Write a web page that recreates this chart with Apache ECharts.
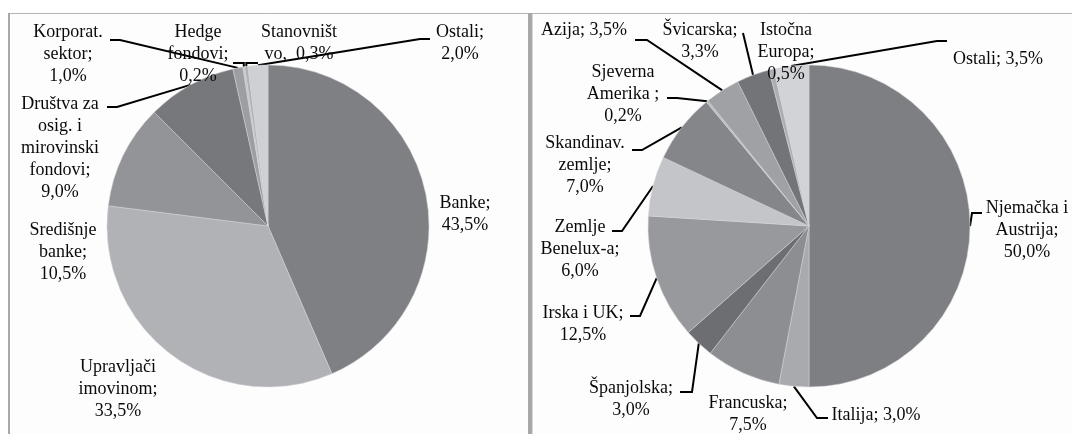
<!DOCTYPE html>
<html><head><meta charset="utf-8">
<script src="https://cdn.jsdelivr.net/npm/echarts@6/dist/echarts.min.js"></script>
<style>html,body{margin:0;padding:0;background:#fff}#c{width:1072px;height:434px}</style>
</head><body><div id="c"></div>
<script>
// ---- data ----
const leftCategories = ['Banke;\n', 'Upravljači\nimovinom;\n', 'Središnje\nbanke;\n',
  'Društva za\nosig. i\nmirovinski\nfondovi;\n', 'Korporat.\nsektor;\n', 'Hedge\nfondovi;\n',
  'Stanovništ\nvo,  ', 'Ostali;\n'];
const leftValues = [43.5, 33.5, 10.5, 9.0, 1.0, 0.2, 0.3, 2.0];

const rightCategories = ['Njemačka i\nAustrija;\n', 'Italija; ', 'Francuska;\n', 'Španjolska;\n',
  'Irska i UK;\n', 'Zemlje\nBenelux-a;\n', 'Skandinav.\nzemlje;\n', 'Sjeverna\nAmerika ;\n',
  'Azija; ', 'Švicarska;\n', 'Istočna\nEuropa;\n', 'Ostali; '];
const rightValues = [50.0, 3.0, 7.5, 3.0, 12.5, 6.0, 7.0, 0.2, 3.5, 3.3, 0.5, 3.5];

// ---- styles ----
const leftColors = ['#7f8084', '#b1b2b6', '#939498', '#77787c', '#9d9ea2', '#c4c5c8', '#aeafb3', '#cfd0d3'];
const rightColors = ['#7e7f83', '#a9aaae', '#8d8e92', '#6d6e72', '#98999d', '#c4c5c8', '#858689',
  '#b9babd', '#a0a1a5', '#737478', '#adaeb1', '#d2d3d6'];

// ---- label layout (label positions and leader end points) ----
const leftLabelLayout = [
  {x: 465, y: 192},
  {x: 118, y: 356},
  {x: 63, y: 219},
  {x: 60, y: 93, end: [107, 107], elbow: [117, 107]},
  {x: 68, y: 21, end: [110, 40], elbow: [120, 40]},
  {x: 198, y: 21, end: [233, 63], elbow: 'v'},
  {x: 299, y: 21, end: [258, 63], elbow: 'v'},
  {x: 460, y: 21, end: [430, 39], elbow: [420, 39]}
];
const rightLabelLayout = [
  {x: 1027, y: 197, end: [982, 213], elbow: [972, 213]},
  {x: 876, y: 404, end: [828, 418], elbow: [817, 418]},
  {x: 748, y: 392},
  {x: 631, y: 377, end: [680, 392], elbow: [692, 392]},
  {x: 583, y: 302, end: [630, 316], elbow: [640, 316]},
  {x: 580, y: 216, end: [612, 231], elbow: [622, 231]},
  {x: 585, y: 132, end: [632, 150], elbow: [642, 150]},
  {x: 623, y: 61, end: [667, 98], elbow: [677, 98]},
  {x: 584, y: 19, end: [635, 40], elbow: [647, 40]},
  {x: 700, y: 19, end: [743, 33], elbow: null},
  {x: 786, y: 19},
  {x: 998, y: 48, end: [947, 41], elbow: [937, 41]}
];

const fmt = v => v.toFixed(1).replace('.', ',') + '%';

function makeLayout(table) {
  return function (params) {
    const L = table[params.dataIndex];
    const out = {x: L.x, y: L.y, align: 'center', verticalAlign: 'top', hideOverlap: false};
    if (L.end && params.labelLinePoints) {
      const s = params.labelLinePoints[0];
      const pts = [[s[0], s[1]]];
      if (L.elbow === 'v') pts.push([s[0], L.end[1]]);
      else if (L.elbow) pts.push(L.elbow);
      pts.push(L.end);
      out.labelLinePoints = pts;
    }
    return out;
  };
}

function makeSeries(cats, vals, colors, table, cx) {
  return {
    type: 'pie',
    center: [cx, 226],
    radius: 161,
    startAngle: 90,
    clockwise: true,
    avoidLabelOverlap: false,
    animation: false,
    emphasis: {disabled: true},
    itemStyle: {borderColor: '#d4d5d8', borderWidth: 0.5},
    label: {
      show: true,
      position: 'outside',
      fontFamily: 'Liberation Serif',
      fontSize: 18,
      lineHeight: 22,
      color: '#0a0a0a',
      formatter: p => p.name + fmt(p.value)
    },
    labelLine: {show: true, lineStyle: {color: '#000', width: 2}},
    labelLayout: makeLayout(table),
    data: vals.map((v, i) => ({
      name: cats[i], value: v,
      itemStyle: {color: colors[i]},
      labelLine: {show: !!table[i].end}
    }))
  };
}

const chart = echarts.init(document.getElementById('c'), null, {renderer: 'canvas'});
chart.setOption({
  backgroundColor: '#ffffff',
  graphic: [
    {type: 'rect', z: 0, silent: true, shape: {x: 9, y: 13.5, width: 521, height: 440},
      style: {fill: '#fdfdfd', stroke: '#b4b4b4', lineWidth: 1}},
    {type: 'rect', z: 0, silent: true, shape: {x: 532, y: 13.5, width: 560, height: 440},
      style: {fill: '#fdfdfd', stroke: '#b4b4b4', lineWidth: 1}},
    {type: 'rect', z: 1, silent: true, shape: {x: 8, y: 13, width: 2, height: 430},
      style: {fill: '#a8a8a8'}},
    {type: 'rect', z: 1, silent: true, shape: {x: 528, y: 13, width: 4, height: 430},
      style: {fill: '#a8a8a8'}}
  ],
  series: [
    makeSeries(leftCategories, leftValues, leftColors, leftLabelLayout, 268),
    makeSeries(rightCategories, rightValues, rightColors, rightLabelLayout, 809)
  ]
});
</script>
</body></html>
